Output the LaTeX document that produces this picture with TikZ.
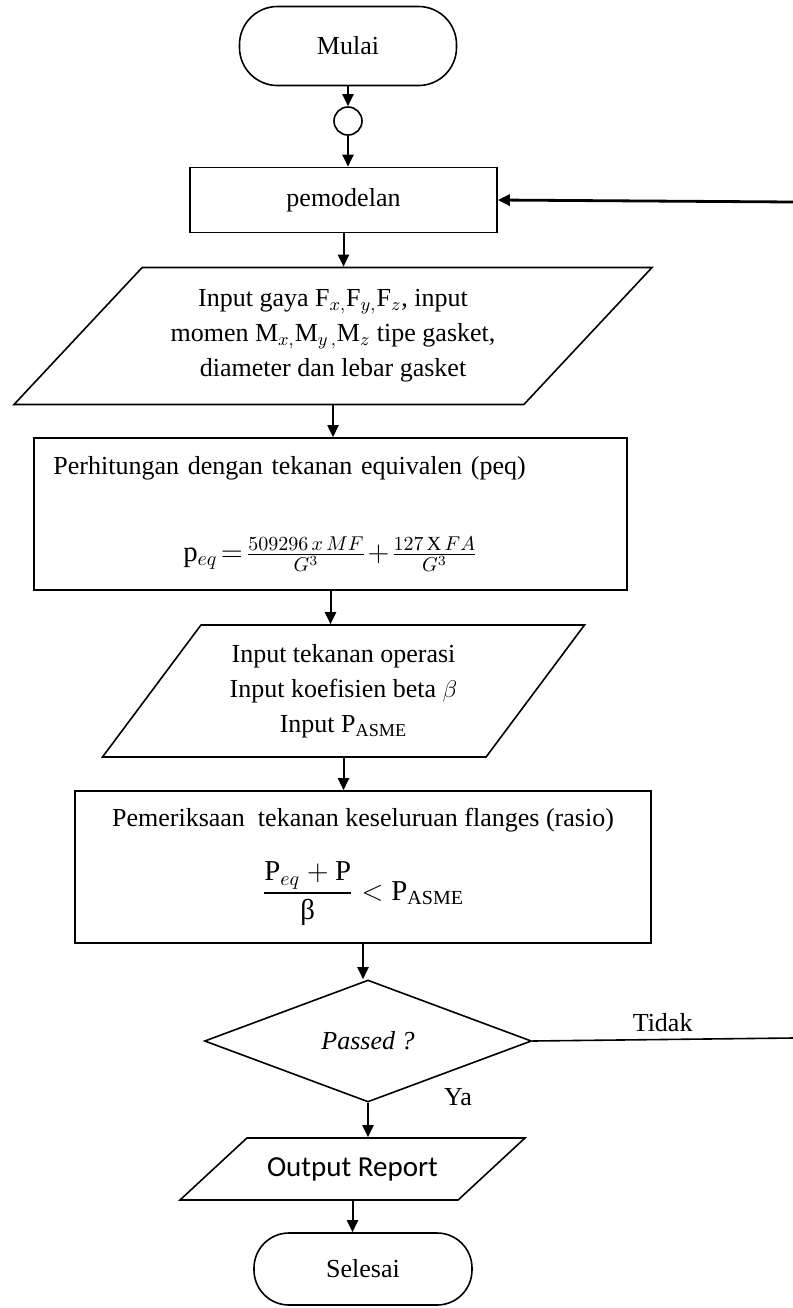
\documentclass[tikz,border=0pt]{standalone}
\usepackage{amsmath}
\usepackage{fontspec}
\setmainfont{Liberation Serif}
\newfontfamily\calibri{Carlito}
\usetikzlibrary{shapes.geometric,arrows.meta}

\tikzset{
    terminal/.style={draw, line width=0.8pt, rectangle, rounded corners=19pt},
    process/.style={draw, line width=0.8pt, rectangle},
    io/.style={draw, line width=0.8pt, trapezium, trapezium stretches body, inner sep=2pt, align=center},
    decision/.style={draw, line width=0.8pt, diamond, inner sep=0pt},
    connector/.style={draw, line width=0.8pt, circle, minimum size=14pt, inner sep=0pt},
    arrow/.style={-{Triangle[length=6pt,width=5.5pt]}, line width=1pt},
}

\begin{document}
\begin{tikzpicture}[x=0.5pt,y=-0.5pt,
    every node/.style={font=\fontsize{13}{17.5}\selectfont}]
    \useasboundingbox (0,0) rectangle (793,1308);
    %draw nodes
    \node[terminal, minimum width=108.5pt, minimum height=39.5pt] (start) at (348,46) {Mulai};
    \node[connector] (conn) at (348,121) {};
    \node[process, minimum width=153.5pt, minimum height=32.5pt] (model) at (343.5,200) {pemodelan};
    \node[io, trapezium left angle=38.2, trapezium right angle=141.8,
        minimum width=319pt, minimum height=68.5pt] (input) at (333,336)
        {Input gaya F$_{x,}$F$_{y,}$F$_{z}$, input\\
         momen M$_{x,}$M$_{y\,,}$M$_{z}$ tipe gasket,\\
         diameter dan lebar gasket};
    \node[process, minimum width=296.5pt, minimum height=76pt, text width=277pt, align=left] (hitung) at (330.5,514)
        {Perhitungan dengan tekanan equivalen (peq)\\[26pt]
         \makebox[277pt][c]{\Large$\mathrm{p}_{eq}\!=\!\frac{509296\,x\,MF}{G^{3}}\!+\!\frac{127\,\mathrm{X}\,FA}{G^{3}}$}};
    \node[io, trapezium left angle=45.9, trapezium right angle=134.1,
        minimum width=241pt, minimum height=66pt] (operasi) at (343.5,691)
        {Input tekanan operasi\\
         Input koefisien beta $\beta$\\
         Input P$_{\mathrm{ASME}}$};
    \node[process, minimum width=288pt, minimum height=76pt, align=center] (periksa) at (363,867)
        {Pemeriksaan\ \ tekanan keseluruan flanges (rasio)\\[14pt]
         {\Large$\dfrac{\mathrm{P}_{eq}+\mathrm{P}}{\mbox{β}}<\mathrm{P}_{\mathrm{ASME}}$}};
    \node[decision, minimum width=163.5pt, minimum height=61pt] (lulus) at (368,1041) {\textit{Passed ?}};
    \node[io, trapezium left angle=25.2, trapezium right angle=154.8,
        minimum width=172.5pt, minimum height=31pt,
        font=\calibri\fontsize{14.5}{17}\selectfont] (output) at (352.5,1169) {Output Report};
    \node[terminal, rounded corners=17.5pt, minimum width=109pt, minimum height=36pt] (stop) at (363,1269) {Selesai};
    \coordinate (back) at (793,202);
    \coordinate (tidakend) at (793,1038);
    %draw connectors
    \draw[arrow] (start.south) -- (start.south |- conn.north);
    \draw[arrow] (conn.south) -- (conn.south |- model.north);
    \draw[arrow] (model.south) -- (model.south |- input.north);
    \draw[arrow] (input.south) -- (input.south |- hitung.north);
    \draw[arrow] (hitung.south) -- (hitung.south |- operasi.north);
    \draw[arrow] (operasi.south) -- (operasi.south |- periksa.north);
    \draw[arrow] (periksa.south) -- (periksa.south |- lulus.north);
    \draw[arrow] (lulus.south) -- (lulus.south |- output.north);
    \draw[arrow] (output.south) -- (output.south |- stop.north);
    \draw[line width=0.8pt] (lulus.east) -- (tidakend) node[midway, above] {Tidak};
    \draw[arrow, line width=1.4pt] (back) -- (model.east);
    \node (ya) at (458,1097) {Ya};
\end{tikzpicture}
\end{document}
